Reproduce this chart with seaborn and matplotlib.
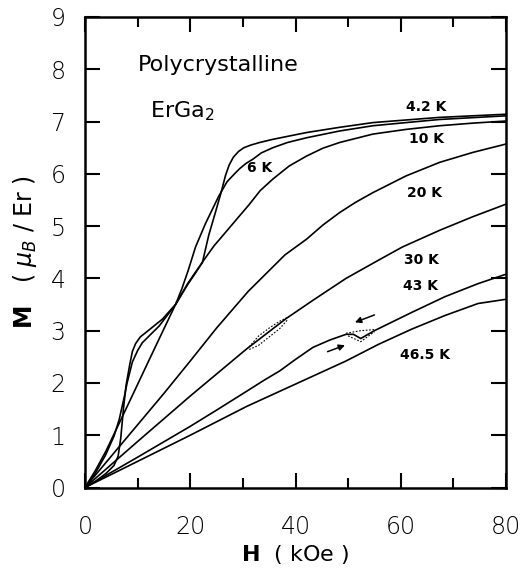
import numpy as np
import pandas as pd
import matplotlib
matplotlib.use('Agg')
import matplotlib.pyplot as plt
import seaborn as sns

# M(H) curves of polycrystalline ErGa2
h_42 = [0, 2, 4, 5.5, 6.3, 6.8, 7.3, 7.8, 8.5, 9.0, 9.6, 10.5, 11.5, 14.7, 17.2, 19.5, 22.3,
        23.5, 24.8, 25.8, 26.7, 27.4, 28.2, 29.2, 30.2, 31.5, 33.2, 35.7, 42.1, 48.4, 54.7,
        61.0, 67.4, 73.7, 80]
m_42 = [0, 0.12, 0.27, 0.42, 0.6, 0.95, 1.5, 1.95, 2.35, 2.6, 2.75, 2.88, 2.96, 3.22, 3.5, 3.88, 4.3,
        4.82, 5.27, 5.62, 5.97, 6.17, 6.32, 6.43, 6.5, 6.55, 6.6, 6.66, 6.79, 6.89, 6.98,
        7.03, 7.08, 7.11, 7.14]

h_6 = [0, 2, 3.9, 5.5, 6.5, 7.5, 8.0, 9.0, 10.0, 10.9, 12.5, 14.1, 17.2, 18.4, 19.6, 21.0, 22.9,
       25.4, 27.0, 28.6, 29.4, 30.6, 31.9, 33.5, 35.7, 38.5, 42.1, 48.4, 54.7, 61.0, 67.4, 80]
m_6 = [0, 0.28, 0.62, 0.98, 1.3, 1.75, 2.0, 2.4, 2.62, 2.77, 2.93, 3.09, 3.5, 3.8, 4.15, 4.6, 5.05,
       5.57, 5.85, 6.02, 6.1, 6.2, 6.28, 6.4, 6.5, 6.6, 6.69, 6.82, 6.92, 6.98, 7.04, 7.11]

h_10 = [0, 2, 4, 6.5, 9, 12, 14.5, 17.2, 19.5, 22.3, 24.5, 26.7, 29.4, 31.1, 33.3, 35.7, 38.8,
        42.1, 45.2, 48.4, 54.7, 61.0, 67.4, 73.7, 80]
m_10 = [0, 0.33, 0.7, 1.23, 1.76, 2.4, 2.93, 3.5, 3.9, 4.31, 4.62, 4.88, 5.2, 5.4, 5.68, 5.9, 6.15,
        6.34, 6.49, 6.6, 6.76, 6.85, 6.92, 6.97, 7.01]

h_20 = [0, 5, 10, 15, 20, 25, 31, 35, 38, 42.1, 45.2, 48.4, 51.5, 54.7, 61.0, 67.4, 73.7, 80]
m_20 = [0, 0.6, 1.2, 1.8, 2.42, 3.05, 3.75, 4.15, 4.45, 4.75, 5.02, 5.26, 5.46, 5.64, 5.96, 6.22, 6.41, 6.57]

h_30 = [0, 10, 20, 30.7, 38.2, 43.3, 49.6, 55.8, 60.3, 67.4, 73.7, 80]
m_30 = [0, 0.88, 1.75, 2.65, 3.23, 3.58, 4.0, 4.35, 4.6, 4.92, 5.18, 5.42]
# dotted hysteresis around 30 K
h_30_up = [31.2, 33, 35, 37, 38.6]
m_30_up = [2.69, 2.9, 3.05, 3.18, 3.26]
h_30_dn = [31.2, 33, 35, 37, 38.6]
m_30_dn = [2.64, 2.72, 2.88, 3.04, 3.22]

h_43 = [0, 10, 20, 25, 30.7, 34, 37, 40, 43.3, 46.5, 49.6, 51.0, 52.4, 55.0, 62.1, 68.4, 74.7, 80]
m_43 = [0, 0.58, 1.17, 1.48, 1.84, 2.05, 2.23, 2.45, 2.68, 2.82, 2.93, 2.93, 2.85, 3.0, 3.35, 3.65, 3.9, 4.08]
h_43_up = [49.6, 52.4, 55.0]
m_43_up = [2.95, 3.0, 3.02]
h_43_dn = [50.0, 52.4, 55.0]
m_43_dn = [2.9, 2.79, 2.98]

h_465 = [0, 10, 20, 30.7, 37, 43.3, 49.6, 55.8, 62.1, 68.4, 74.7, 80]
m_465 = [0, 0.5, 1.0, 1.55, 1.84, 2.13, 2.42, 2.74, 3.03, 3.29, 3.52, 3.6]

labels = ['4.2 K', '10 K', '20 K', '30 K', '43 K', '46.5 K', '6 K']
label_h = [64.8, 64.8, 64.5, 64.0, 63.7, 64.7, 33.2]
label_m = [7.27, 6.66, 5.64, 4.35, 3.85, 2.54, 6.12]

sns.set_theme(style='ticks')
plt.rcParams['font.family'] = ['DejaVu Sans']
plt.rcParams['text.color'] = 'black'
plt.rcParams['axes.labelcolor'] = 'black'
plt.rcParams['xtick.color'] = 'black'
plt.rcParams['ytick.color'] = 'black'

fig = plt.figure(figsize=(5.31, 5.75), dpi=100)
ax = fig.add_axes([85 / 531, 1 - 487.5 / 575, 421 / 531, 470.5 / 575])

for h, m in [(h_42, m_42), (h_6, m_6), (h_10, m_10), (h_20, m_20),
             (h_30, m_30), (h_43, m_43), (h_465, m_465)]:
    sns.lineplot(x=h, y=m, ax=ax, color='black', lw=1.2, sort=False)

for h, m in [(h_30_up, m_30_up), (h_30_dn, m_30_dn), (h_43_up, m_43_up), (h_43_dn, m_43_dn)]:
    sns.lineplot(x=h, y=m, ax=ax, color='black', lw=0.8, ls=(0, (1.5, 1.5)), sort=False)

# field sweep arrows near the 43 K anomaly
ax.annotate('', xy=(50.8, 3.14), xytext=(55.5, 3.32),
            arrowprops=dict(arrowstyle='-|>', color='black', lw=1.1, mutation_scale=9))
ax.annotate('', xy=(49.9, 2.74), xytext=(45.6, 2.58),
            arrowprops=dict(arrowstyle='-|>', color='black', lw=1.1, mutation_scale=9))

for t, x, y in zip(labels, label_h, label_m):
    ax.text(x, y, t, fontsize=10, fontweight='bold', ha='center', va='center')

ax.text(10, 8.08, 'Polycrystalline', fontsize=16, ha='left', va='center')
ax.text(12.3, 7.19, r'ErGa$_2$', fontsize=16, ha='left', va='center')

ax.set_xlim(0, 80)
ax.set_ylim(0, 9)
ax.set_xticks([0, 20, 40, 60, 80])
ax.set_xticks([10, 30, 50, 70], minor=True)
ax.set_yticks(range(10))
ax.set_yticklabels([str(i) for i in range(10)])
ax.tick_params(which='major', direction='in', length=11, width=1.5,
               top=True, right=True, labelsize=17, colors='black')
ax.tick_params(axis='x', which='major', pad=20)
ax.tick_params(axis='y', which='major', pad=14)
ax.tick_params(which='minor', direction='in', length=7, width=1.5, top=True, right=False)
for lab in ax.get_xticklabels() + ax.get_yticklabels():
    lab.set_fontweight('light')
for s in ax.spines.values():
    s.set_linewidth(1.8)
    s.set_color('black')
    s.set_visible(True)

ax.set_xlabel(r'$\mathbf{H}$  ( kOe )', fontsize=16, labelpad=3)
ax.set_ylabel(r'$\mathbf{M}$   ( $\mu_B$ / Er )', fontsize=17, labelpad=8)
ax.grid(False)

fig.savefig('out.png', dpi=100)
